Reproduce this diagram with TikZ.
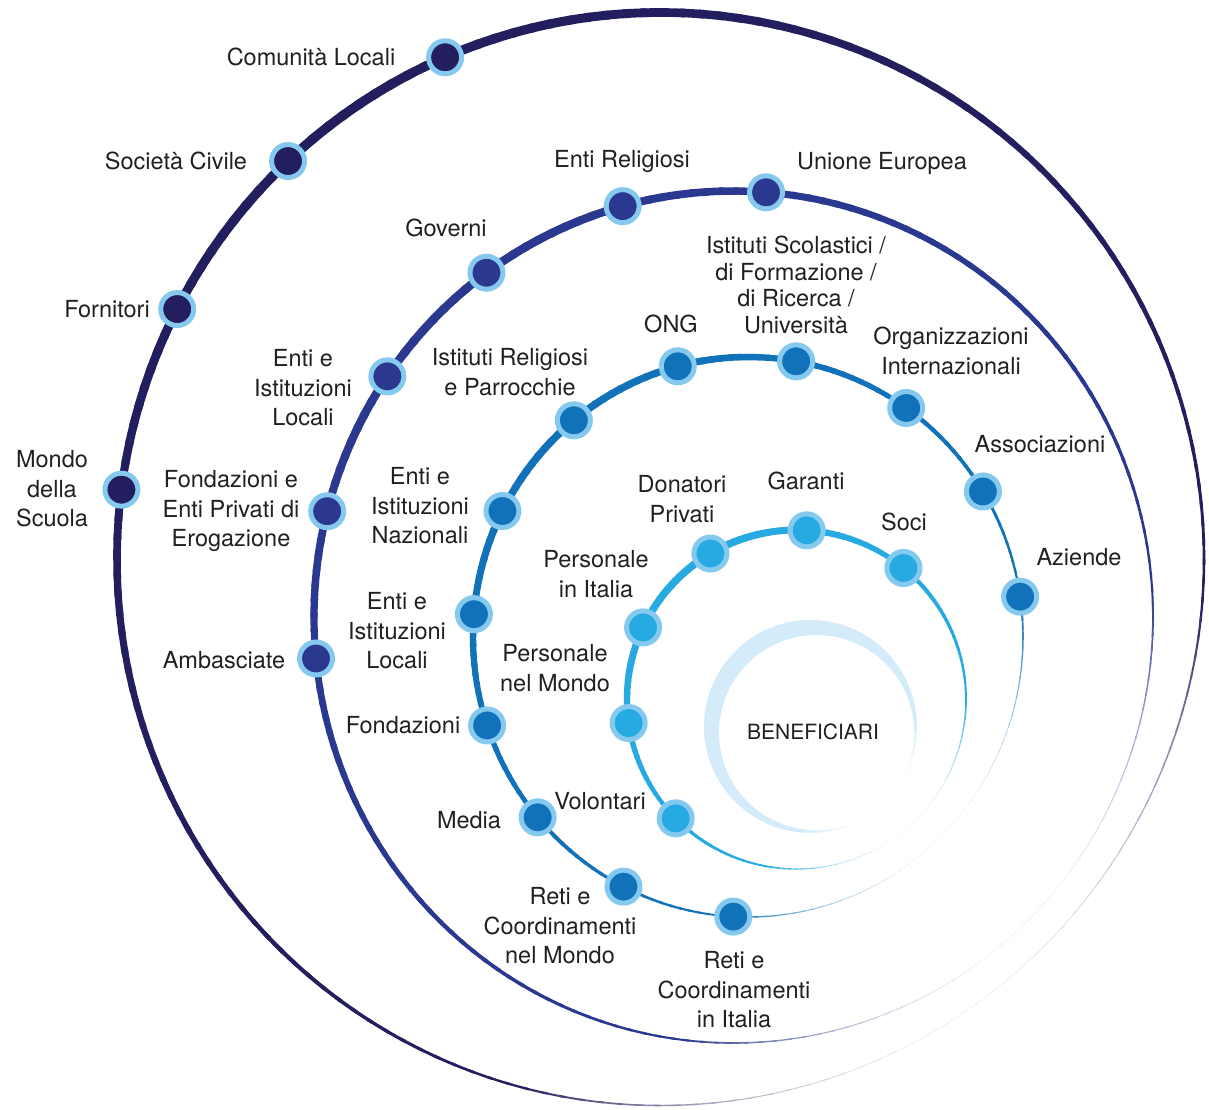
\documentclass[tikz,border=0pt]{standalone}
\usepackage{fontspec}
\setmainfont{TeX Gyre Heros}
\usetikzlibrary{calc}
\definecolor{ringD}{HTML}{231F5E}
\definecolor{ringC}{HTML}{2A3890}
\definecolor{ringB}{HTML}{1272B9}
\definecolor{ringA}{HTML}{27AAE1}
\definecolor{rimblue}{HTML}{86C9EF}
\definecolor{cresc}{HTML}{D4ECF9}
\definecolor{txtgray}{HTML}{231F20}
% tapered ring: #1 centre, #2 x radius, #3 y radius, #4 max width (px), #5 min width (px), #6 thin angle, #7 colour
\newcommand{\taperring}[7]{%
  \foreach \a in {0,2,...,358}{%
    \pgfmathsetmacro{\rtT}{(1-cos(\a+1-#6))/2}%
    \pgfmathsetmacro{\rtW}{(#5+(#4-#5)*\rtT)*0.5}%
    \pgfmathsetmacro{\rtP}{min(100,6+94*\rtT/0.18)}%
    \draw[line width=\rtW pt, draw=#7!\rtP!white]
      ($(#1)+(\a:#2 and #3)$) arc[start angle=\a, end angle=\a+2.6, x radius=#2, y radius=#3];
  }%
}
\begin{document}
\begin{tikzpicture}[x=0.5pt, y=-0.5pt,
  dot/.style={circle, draw=rimblue, line width=2.5pt, minimum size=16.5pt, inner sep=0pt},
  lbl/.style={font=\fontsize{11.75}{14.75}\selectfont, text=txtgray, align=center, inner sep=0pt},
  lbltight/.style={lbl, font=\fontsize{11.75}{13.4}\selectfont},
  centrelbl/.style={font=\fontsize{10.5}{12}\selectfont, text=txtgray, inner sep=0pt}]
\useasboundingbox (0,0) rectangle (1209,1109);

\coordinate (C4) at (660.5,559);
\coordinate (C3) at (733.5,617);
\coordinate (C2) at (748,637);
\coordinate (C1) at (796.5,699.5);
\coordinate (C0) at (813.5,729.5);

% rings
\taperring{C4}{543.5}{546.5}{9.5}{0.7}{55}{ringD}
\taperring{C3}{419.5}{426}{8.5}{0.6}{47}{ringC}
\taperring{C2}{275}{280}{7.5}{0.5}{45}{ringB}
\taperring{C1}{169.5}{169.5}{7.5}{0.5}{50}{ringA}
\taperring{C0}{102}{102}{17.5}{0}{45}{cresc}

% outer ring nodes
\node[dot, fill=ringD] (d-comunita) at ($(C4)+(-113.35:543.5 and 546.5)$) {};
\node[dot, fill=ringD] (d-societa)  at ($(C4)+(-133.26:543.5 and 546.5)$) {};
\node[dot, fill=ringD] (d-fornitori) at ($(C4)+(-152.78:543.5 and 546.5)$) {};
\node[dot, fill=ringD] (d-mondo)    at ($(C4)+(-172.71:543.5 and 546.5)$) {};

% third ring nodes
\node[dot, fill=ringC] (d-ue)       at ($(C3)+(-85.55:419.5 and 426)$) {};
\node[dot, fill=ringC] (d-entirel)  at ($(C3)+(-105.32:419.5 and 426)$) {};
\node[dot, fill=ringC] (d-governi)  at ($(C3)+(-126.08:419.5 and 426)$) {};
\node[dot, fill=ringC] (d-entiloc3) at ($(C3)+(-145.6:419.5 and 426)$) {};
\node[dot, fill=ringC] (d-fondpriv) at ($(C3)+(-165.62:419.5 and 426)$) {};
\node[dot, fill=ringC] (d-ambasc)   at ($(C3)+(174.41:419.5 and 426)$) {};

% second ring nodes
\node[dot, fill=ringB] (d-ong)      at ($(C2)+(-104.8:275 and 280)$) {};
\node[dot, fill=ringB] (d-istsc)    at ($(C2)+(-79.92:275 and 280)$) {};
\node[dot, fill=ringB] (d-orgint)   at ($(C2)+(-54.88:275 and 280)$) {};
\node[dot, fill=ringB] (d-assoc)    at ($(C2)+(-31.32:275 and 280)$) {};
\node[dot, fill=ringB] (d-aziende)  at ($(C2)+(-8.29:275 and 280)$) {};
\node[dot, fill=ringB] (d-istrel)   at ($(C2)+(-129.29:275 and 280)$) {};
\node[dot, fill=ringB] (d-entinaz)  at ($(C2)+(-153.25:275 and 280)$) {};
\node[dot, fill=ringB] (d-entiloc2) at ($(C2)+(-175.32:275 and 280)$) {};
\node[dot, fill=ringB] (d-fondaz)   at ($(C2)+(161.59:275 and 280)$) {};
\node[dot, fill=ringB] (d-media)    at ($(C2)+(139.91:275 and 280)$) {};
\node[dot, fill=ringB] (d-retimondo) at ($(C2)+(116.93:275 and 280)$) {};
\node[dot, fill=ringB] (d-retiitalia) at ($(C2)+(93.07:275 and 280)$) {};

% inner ring nodes
\node[dot, fill=ringA] (d-garanti)  at ($(C1)+(-86.56:169.5)$) {};
\node[dot, fill=ringA] (d-donatori) at ($(C1)+(-120.53:169.5)$) {};
\node[dot, fill=ringA] (d-soci)     at ($(C1)+(-50.89:169.5)$) {};
\node[dot, fill=ringA] (d-persit)   at ($(C1)+(-154.83:169.5)$) {};
\node[dot, fill=ringA] (d-persmondo) at ($(C1)+(172.02:169.5)$) {};
\node[dot, fill=ringA] (d-volontari) at ($(C1)+(135.47:169.5)$) {};

% labels
\node[lbl] (comunita) at (311,57) {Comunità Locali};
\node[lbl] (societa) at (176,161) {Società Civile};
\node[lbl] (fornitori) at (107,309) {Fornitori};
\node[lbl] (mondo) at (52,489) {Mondo\\della\\Scuola};

\node[lbl] (entirel) at (622,161) {Enti Religiosi};
\node[lbl] (ue) at (882,163) {Unione Europea};
\node[lbl] (governi) at (446,228) {Governi};
\node[lbl] (entiloc3) at (303,388) {Enti e\\Istituzioni\\Locali};
\node[lbl] (fondpriv) at (231,511) {Fondazioni e\\Enti Privati di\\Erogazione};
\node[lbl] (ambasc) at (224,660) {Ambasciate};

\node[lbltight] (istsc) at (796,285) {Istituti Scolastici /\\di Formazione /\\di Ricerca /\\Università};
\node[lbl] (ong) at (671,324) {ONG};
\node[lbl] (orgint) at (951,351) {Organizzazioni\\Internazionali};
\node[lbl] (assoc) at (1040,444) {Associazioni};
\node[lbl] (aziende) at (1079,557) {Aziende};
\node[lbl] (istrel) at (510,372) {Istituti Religiosi\\e Parrocchie};
\node[lbl] (entinaz) at (420,506) {Enti e\\Istituzioni\\Nazionali};
\node[lbl] (entiloc2) at (397,631) {Enti e\\Istituzioni\\Locali};
\node[lbl] (fondaz) at (403,725) {Fondazioni};
\node[lbl] (media) at (469,820) {Media};
\node[lbl] (retimondo) at (560,926) {Reti e\\Coordinamenti\\nel Mondo};
\node[lbl] (retiitalia) at (734,990) {Reti e\\Coordinamenti\\in Italia};

\node[lbl] (donatori) at (682,499) {Donatori\\Privati};
\node[lbl] (garanti) at (806,481) {Garanti};
\node[lbl] (soci) at (904,522) {Soci};
\node[lbl] (persit) at (596,574) {Personale\\in Italia};
\node[lbl] (persmondo) at (555,668) {Personale\\nel Mondo};
\node[lbl] (volontari) at (600,801) {Volontari};

\node[centrelbl] (benef) at (813,732) {BENEFICIARI};
\end{tikzpicture}
\end{document}
